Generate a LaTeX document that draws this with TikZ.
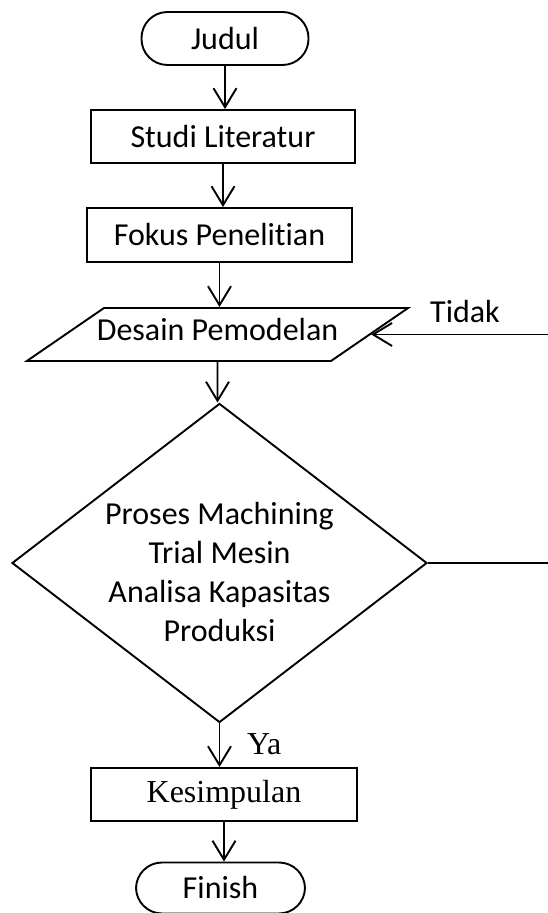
\documentclass[tikz,border=0pt]{standalone}
\usepackage{fontspec}
\setmainfont{Carlito}[Ligatures=NoCommon]
\newfontfamily\timesfont{Liberation Serif}
\usepackage{tikz}
\usetikzlibrary{arrows.meta,shapes.geometric}
\newcommand{\serifword}[1]{{\timesfont\fontsize{32}{37}\selectfont #1}}

\begin{document}
\begin{tikzpicture}[x=1pt, y=1pt,
    flow/.style={line width=1.9pt},
    arr/.style={flow, -{Straight Barb[length=19pt,width=23pt]}},
    box/.style={draw, flow, rectangle, minimum height=53pt, inner sep=0pt,
                font=\fontsize{32}{37}\selectfont},
    termin/.style={box, rounded corners=26pt},
    datain/.style={draw, flow, trapezium, trapezium left angle=34.5,
                   trapezium right angle=145.5, inner xsep=0pt, inner ysep=13pt,
                   text height=20pt, text depth=7pt,
                   font=\fontsize{32}{37}\selectfont},
    decide/.style={draw, flow, diamond, aspect=1.3, minimum width=415pt,
                   minimum height=319pt, inner sep=0pt,
                   font=\fontsize{32}{39}\selectfont}]
  \useasboundingbox (0,0) rectangle (548,913);
  \clip (0,0) rectangle (548,913);

  % alur utama
  \node[termin, minimum width=167pt] (judul) at (225,874.5) {Judul};
  \node[box, minimum width=264pt] (studi) at (223,776.5) {Studi Literatur};
  \node[box, minimum width=265pt, minimum height=54pt] (fokus) at (219.5,678) {Fokus Penelitian};
  \node[datain] (desain) at (217.5,578.5) {\makebox[227pt]{Desain Pemodelan}};
  \node[decide] (uji) at (219.5,350) {\raisebox{-18pt}[0pt][0pt]{\begin{tabular}{@{}c@{}}
      Proses Machining\\Trial Mesin\\Analisa Kapasitas\\Produksi\end{tabular}}};
  \node[box, minimum width=266pt] (simpul) at (224,118.5) {\serifword{Kesimpulan}};
  \node[termin, minimum width=169pt, minimum height=51pt] (finish) at (220.5,25) {Finish};

  \draw[arr] (judul) -- (judul |- studi.north);
  \draw[arr] (studi) -- (studi |- fokus.north);
  \draw[arr] (fokus) -- (fokus |- desain.north);
  \draw[arr] (desain) -- (desain |- uji.north);
  \draw[arr] (uji) -- (uji |- simpul.north);
  \draw[arr] (simpul) -- (simpul |- finish.north);

  % umpan balik
  \coordinate (balik) at (552,350);
  \draw[arr] (uji.east) -- (balik) |- (desain.east);
  \node[anchor=base west, inner sep=0pt, font=\fontsize{32}{37}\selectfont] (tidak) at (430,590) {Tidak};
  \node[anchor=base west, inner sep=0pt] (ya) at (247,158) {\serifword{Ya}};
\end{tikzpicture}
\end{document}
